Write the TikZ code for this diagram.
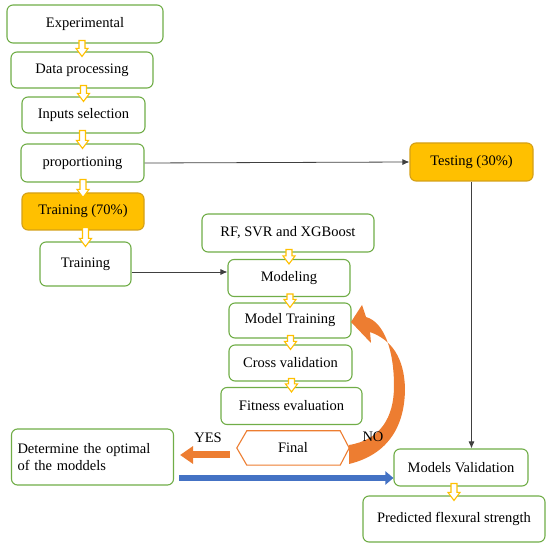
\documentclass[tikz,border=0pt]{standalone}
\usepackage{fontspec}
\setmainfont{Liberation Serif}
\usetikzlibrary{arrows.meta,calc}
\definecolor{gbord}{HTML}{70AD47}
\definecolor{gold}{HTML}{FFC000}
\definecolor{goldb}{HTML}{D4A017}
\definecolor{orng}{HTML}{ED7D31}
\definecolor{blu}{HTML}{4472C4}
\definecolor{blub}{HTML}{2F528F}
\tikzset{
  box/.style={draw=gbord, line width=1.1pt, rounded corners=6pt, fill=white, align=center, inner sep=2pt},
  goldbox/.style={box, draw=goldb, fill=gold},
  harr/.style={draw=gold, line width=1.1pt, fill=white},
  conn/.style={draw=black!75, line width=0.8pt, -{Latex[length=7pt,width=6pt]}},
  lbl/.style={inner sep=0pt},
}
\newcommand\harrow[2]{%
  \path[harr] let \p1=(#1.south), \p2=(#2.north) in
    (\x2-3pt,\y1+3pt) -- (\x2+3pt,\y1+3pt) -- (\x2+3pt,\y2+3pt) -- (\x2+6pt,\y2+3pt)
    -- (\x2,\y2-5pt) -- (\x2-6pt,\y2+3pt) -- (\x2-3pt,\y2+3pt) -- cycle;}
\begin{document}
\begin{tikzpicture}[x=1pt,y=-1pt,font=\fontsize{14.5}{17}\selectfont]
\useasboundingbox (0,0) rectangle (550,548);
% left column
\node[box, minimum width=156, minimum height=38] (exp) at (85,24) {Experimental};
\node[box, minimum width=142, minimum height=36] (dp) at (82,70) {Data processing};
\node[box, minimum width=123, minimum height=36] (inp) at (83.5,115) {Inputs selection};
\node[box, minimum width=123, minimum height=38] (prop) at (82.5,163) {proportioning};
\node[goldbox, minimum width=122, minimum height=37] (tr70) at (83,211.5) {Training (70\%)};
\node[box, minimum width=91, minimum height=44] (tr) at (85.5,264) {Training};
% middle column
\node[box, minimum width=172, minimum height=38] (rf) at (288,233) {RF, SVR and XGBoost};
\node[box, minimum width=122, minimum height=37] (mod) at (289,278) {Modeling};
\node[box, minimum width=122, minimum height=35] (mt) at (290,320.5) {Model Training};
\node[box, minimum width=123, minimum height=36] (cv) at (290.5,363) {Cross validation};
\node[box, minimum width=141, minimum height=37] (fe) at (291.5,406) {Fitness evaluation};
\node[minimum width=112, minimum height=34, inner sep=0pt] (fin) at (293,448) {};
\draw[draw=orng, line width=1.1pt, fill=white]
  (fin.west) -- ($(fin.north west)+(10,0)$) -- ($(fin.north east)+(-9,0)$) -- (fin.east)
  -- ($(fin.south east)+(-9,0)$) -- ($(fin.south west)+(10,0)$) -- cycle;
\node at (fin.center) {Final};
\node[box, minimum width=161, minimum height=56, align=left, text width=150, inner sep=6pt] (det) at (92.5,457)
  {Determine the optimal\\of the moddels};
% right column
\node[goldbox, minimum width=123, minimum height=38] (test) at (471.5,162) {Testing (30\%)};
\node[box, minimum width=134, minimum height=37] (mv) at (461,467.5) {Models Validation};
\node[box, minimum width=182, minimum height=46] (pfs) at (454,519) {Predicted flexural strength};
% hollow arrows
\harrow{exp}{dp}
\harrow{dp}{inp}
\harrow{inp}{prop}
\harrow{prop}{tr70}
\harrow{tr70}{tr}
\harrow{rf}{mod}
\harrow{mod}{mt}
\harrow{mt}{cv}
\harrow{cv}{fe}
\harrow{mv}{pfs}
% connectors
\draw[conn] (prop.east) -- (test.west);
\draw[conn] ($(tr.east)+(0,8)$) -- ($(mod.west)+(0,-6)$);
\draw[conn] (test.south) -- (test.south |- mv.north);
% YES arrow
\draw[orng, line width=7pt, -{Triangle[length=13pt,width=17pt]}] ($(fin.west)+(-7,7)$) -- ($(det.east)+(6,-2)$);
\node[lbl] (yes) at (208,438) {YES};
% blue arrow
\draw[blu, line width=6pt, -{Triangle[length=8pt,width=13pt]}] ($(det.east)+(5,21)$) -- ($(mv.west)+(0,10.5)$);
% NO curved arrow
\fill[orng] (349,445) -- (349,464)
  .. controls (390,454) and (405,424) .. (405,388)
  .. controls (404,358) and (392,340) .. (370,332)
  -- (371,343) -- (351,322) -- (362,305) -- (366,317)
  .. controls (384,322) and (394,350) .. (394,386)
  .. controls (394,418) and (380,440) .. (349,445) -- cycle;
\node[lbl] (no) at (373,437) {NO};
\end{tikzpicture}
\end{document}
